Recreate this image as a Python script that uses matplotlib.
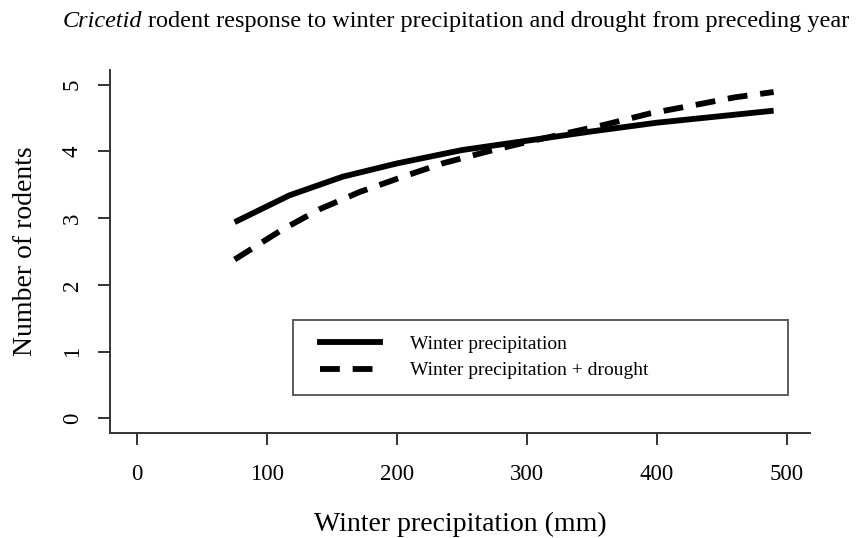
import matplotlib
matplotlib.use("Agg")
import matplotlib.pyplot as plt
from matplotlib.lines import Line2D
from matplotlib.legend_handler import HandlerLine2D

# Fitted rodent counts against winter precipitation (mm)
precip_solid = [75, 117, 158, 200, 250, 300, 350, 400, 450, 490]
rodents_solid = [2.94, 3.34, 3.62, 3.82, 4.02, 4.16, 4.30, 4.43, 4.53, 4.61]

precip_dashed = [75, 111, 140, 171, 203, 235, 270, 300, 330, 360, 395, 428, 460, 490]
rodents_dashed = [2.38, 2.82, 3.13, 3.39, 3.61, 3.82, 4.00, 4.14, 4.27, 4.40, 4.57, 4.69, 4.81, 4.89]

x_ticks = [0, 100, 200, 300, 400, 500]
y_ticks = [0, 1, 2, 3, 4, 5]
series_labels = ["Winter precipitation", "Winter precipitation + drought"]

plt.rcParams["font.family"] = ["Liberation Serif", "DejaVu Serif"]

LW = 4.2
DASH = (3.4, 2.2)
AXIS_COLOR = "#333333"

fig = plt.figure(figsize=(8.64, 5.38), dpi=100)
ax = fig.add_axes([0.1273, 0.1952, 0.8102, 0.6747])

ax.plot(precip_solid, rodents_solid, color="black", lw=LW,
        solid_capstyle="butt")
ax.plot(precip_dashed, rodents_dashed, color="black", lw=LW,
        dashes=DASH, dash_capstyle="butt")

ax.set_xlim(-21, 518)
ax.set_ylim(-0.22, 5.22)
ax.set_xticks(x_ticks)
ax.set_yticks(y_ticks)

for side in ("top", "right"):
    ax.spines[side].set_visible(False)
for side in ("left", "bottom"):
    ax.spines[side].set_color(AXIS_COLOR)
    ax.spines[side].set_linewidth(1.4)

ax.tick_params(axis="both", direction="out", length=8.5, width=1.4,
               color=AXIS_COLOR, labelsize=16.5)
ax.tick_params(axis="x", pad=14)
ax.tick_params(axis="y", pad=11)
for lbl in ax.get_yticklabels():
    lbl.set_rotation(90)
    lbl.set_va("center")

ax.set_xlabel("Winter precipitation (mm)", fontsize=20, labelpad=19)
ax.set_ylabel("Number of rodents", fontsize=20, labelpad=17)

# Title: italic genus name followed by the upright remainder
t1 = fig.text(0.072, 0.941, "Cricetid", fontsize=17.5, style="italic",
              ha="left", va="bottom")
ax.annotate("rodent response to winter precipitation and drought from preceding year",
            xy=(1, 0), xycoords=t1, xytext=(4.5, 0), textcoords="offset points",
            fontsize=17.5, ha="left", va="bottom", annotation_clip=False)

handles = [
    Line2D([], [], color="black", lw=LW),
    Line2D([], [], color="black", lw=LW, dashes=DASH),
]
pad_handler = HandlerLine2D(xpad=0.6)
leg = ax.legend(handles, series_labels, loc="center left",
                bbox_to_anchor=(0.261, 0.102, 0.707, 0.212), mode="expand",
                fontsize=14, frameon=True, fancybox=False,
                handlelength=3.7, handletextpad=1.55, borderpad=0.8,
                labelspacing=0.45, borderaxespad=0,
                handler_map={Line2D: pad_handler})
leg.get_frame().set_edgecolor(AXIS_COLOR)
leg.get_frame().set_linewidth(1.4)

fig.savefig("out.png", dpi=100, facecolor="white")
